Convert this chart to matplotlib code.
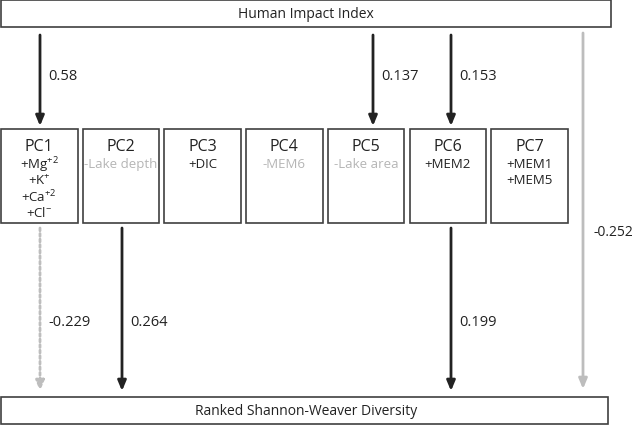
import matplotlib
matplotlib.use("Agg")
import matplotlib.pyplot as plt
from matplotlib.patches import Rectangle

plt.rcParams['font.family'] = ['Open Sans', 'DejaVu Sans']

# data
top_label = "Human Impact Index"
bottom_label = "Ranked Shannon-Weaver Diversity"
pcs = ["PC1", "PC2", "PC3", "PC4", "PC5", "PC6", "PC7"]
pc_vars = [
    ["+Mg$^{\\mathregular{+2}}$", "+K$^{\\mathregular{+}}$",
     "+Ca$^{\\mathregular{+2}}$", "+Cl$^{\\mathregular{-}}$"],
    ["-Lake depth"],
    ["+DIC"],
    ["-MEM6"],
    ["-Lake area"],
    ["+MEM2"],
    ["+MEM1", "+MEM5"],
]
pc_var_faded = [False, True, False, True, True, False, False]
hii_to_pc = {"PC1": 0.58, "PC5": 0.137, "PC6": 0.153}
pc_to_div = {"PC1": -0.229, "PC2": 0.264, "PC6": 0.199}
pc_to_div_style = {"PC1": "dotted", "PC2": "solid", "PC6": "solid"}
hii_to_div = -0.252

W, H = 634, 427
fig = plt.figure(figsize=(W / 100, H / 100), dpi=100)
ax = fig.add_axes([0, 0, 1, 1])
ax.set_xlim(0, W)
ax.set_ylim(H, 0)
ax.axis('off')

dark = '#222222'
grey = '#bdbdbd'
edge = '#404040'
fs = 10.5

# top and bottom boxes
ax.add_patch(Rectangle((1, 1), 610, 27, fill=False, ec=edge, lw=1.2))
ax.text(306, 15, top_label, ha='center', va='center', fontsize=fs - 0.5, color=dark)
ax.add_patch(Rectangle((1, 398), 607, 27, fill=False, ec=edge, lw=1.2))
ax.text(306, 412, bottom_label, ha='center', va='center', fontsize=fs - 0.5, color=dark)

# PC boxes
box_left = 1
box_w = 76.5
gap = 5.2
box_top, box_bot = 130, 224
for i, (pc, vs) in enumerate(zip(pcs, pc_vars)):
    x0 = box_left + i * (box_w + gap)
    ax.add_patch(Rectangle((x0, box_top), box_w, box_bot - box_top,
                           fill=False, ec=edge, lw=1.2))
    cx = x0 + box_w / 2
    ax.text(cx, 147, pc, ha='center', va='center', fontsize=fs + 1, color=dark)
    col = '#b5b5b5' if pc_var_faded[i] else dark
    for j, v in enumerate(vs):
        ax.text(cx, 165 + j * 16, v, ha='center', va='center', fontsize=fs - 1, color=col)

arrow_x = {"PC1": 40, "PC2": 122, "PC5": 373, "PC6": 451}


def arrow(x, y0, y1, color, ls='solid', lw=2):
    ax.annotate('', xy=(x, y1), xytext=(x, y0),
                arrowprops=dict(arrowstyle='-|>,head_width=0.25,head_length=0.6',
                                color=color, lw=lw, linestyle=ls,
                                shrinkA=0, shrinkB=0))


# Human impact -> PCs
for pc, val in hii_to_pc.items():
    x = arrow_x[pc]
    arrow(x, 36, 127, dark)
    ax.text(x + 8, 77, f"{val:g}", ha='left', va='center', fontsize=fs, color=dark)

# PCs -> diversity
for pc, val in pc_to_div.items():
    x = arrow_x[pc]
    col = grey if val < 0 else dark
    ls = (0, (1, 1)) if pc_to_div_style[pc] == 'dotted' else 'solid'
    arrow(x, 229, 392, col, ls=ls)
    ax.text(x + 8, 323, f"{val:g}", ha='left', va='center', fontsize=fs, color=dark)

# direct path
arrow(583, 34, 390, grey)
ax.text(594, 233, f"{hii_to_div:g}", ha='left', va='center', fontsize=fs - 0.5, color=dark)

fig.savefig('out.png', dpi=100)
